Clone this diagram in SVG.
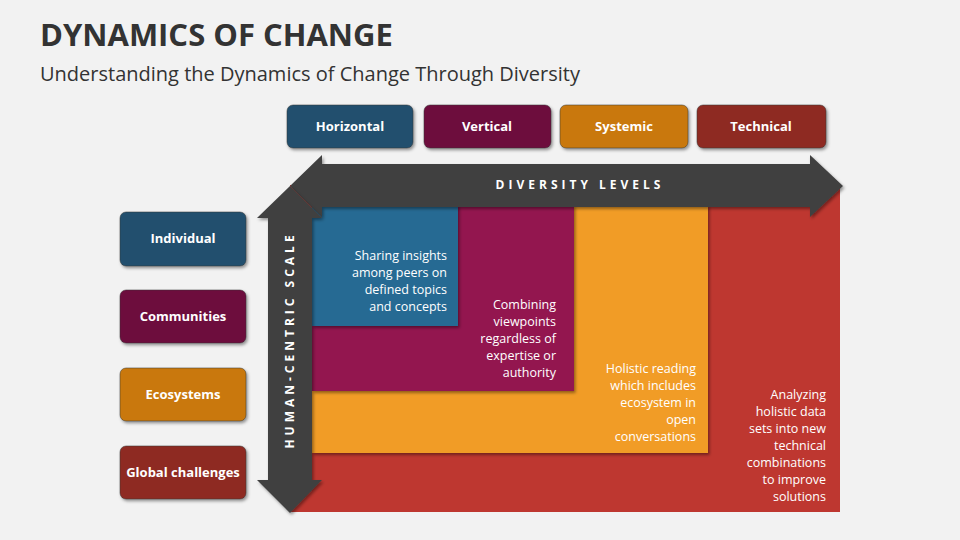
<svg xmlns="http://www.w3.org/2000/svg" width="960" height="540" viewBox="0 0 960 540">
<defs>
<style>
.t{font-family:"Open Sans","Liberation Sans",sans-serif;font-weight:bold;font-size:13px;fill:#fff;text-anchor:middle}
.b{font-family:"Open Sans","Liberation Sans",sans-serif;font-size:12.5px;fill:#fff;text-anchor:end}
.box{stroke:#333;stroke-opacity:.5;stroke-width:1}
</style>
<filter id="sh" x="-10%" y="-10%" width="120%" height="130%"><feDropShadow dx="1.5" dy="2" stdDeviation="1.5" flood-opacity="0.4"/></filter>
</defs>
<rect width="960" height="540" fill="#f2f2f2"/>
<text x="40" y="46" font-family="Open Sans,Liberation Sans,sans-serif" font-weight="bold" font-size="31" fill="#333">DYNAMICS OF CHANGE</text>
<text x="40" y="81" font-family="Open Sans,Liberation Sans,sans-serif" font-size="20" fill="#333">Understanding the Dynamics of Change Through Diversity</text>
<g id="quadrants">
<rect x="290" y="185" width="550" height="327" fill="#be3730"/>
<rect x="312" y="205" width="396" height="248" fill="#f19c27" filter="url(#sh)"/>
<rect x="312" y="205" width="262" height="186" fill="#93124f" filter="url(#sh)"/>
<rect x="312" y="205" width="146" height="121" fill="#276a93" filter="url(#sh)"/>
<text class="b" x="447" y="260">Sharing insights<tspan x="447" dy="17">among peers on</tspan><tspan x="447" dy="17">defined topics</tspan><tspan x="447" dy="17">and concepts</tspan></text>
<text class="b" x="556" y="309">Combining<tspan x="556" dy="17">viewpoints</tspan><tspan x="556" dy="17">regardless of</tspan><tspan x="556" dy="17">expertise or</tspan><tspan x="556" dy="17">authority</tspan></text>
<text class="b" x="696" y="373">Holistic reading<tspan x="696" dy="17">which includes</tspan><tspan x="696" dy="17">ecosystem in</tspan><tspan x="696" dy="17">open</tspan><tspan x="696" dy="17">conversations</tspan></text>
<text class="b" x="826" y="399">Analyzing<tspan x="826" dy="17">holistic data</tspan><tspan x="826" dy="17">sets into new</tspan><tspan x="826" dy="17">technical</tspan><tspan x="826" dy="17">combinations</tspan><tspan x="826" dy="17">to improve</tspan><tspan x="826" dy="17">solutions</tspan></text>
</g>
<g id="connectors">
<polygon points="290,186 322,155 322,164 810,164 810,155 843,186 810,217 810,207 322,207 322,217" fill="#404040" filter="url(#sh)"/>
<polygon points="290,186 322,218 312,218 312,480 322,480 290,513 257,480 268,480 268,218 257,218" fill="#404040" filter="url(#sh)"/>
<text x="580" y="189" font-family="Open Sans,Liberation Sans,sans-serif" font-weight="bold" font-size="12" letter-spacing="4" fill="#fff" text-anchor="middle">DIVERSITY LEVELS</text>
<text transform="translate(294,340) rotate(-90)" font-family="Open Sans,Liberation Sans,sans-serif" font-weight="bold" font-size="12" letter-spacing="4" fill="#fff" text-anchor="middle">HUMAN-CENTRIC SCALE</text>
</g>
<g id="top-horizontal"><rect class="box" x="287" y="105" width="126" height="43" rx="6" fill="#21506e" filter="url(#sh)"/><text class="t" x="350" y="131">Horizontal</text></g>
<g id="top-vertical"><rect class="box" x="424" y="105" width="127" height="43" rx="6" fill="#6d0e3e" filter="url(#sh)"/><text class="t" x="487" y="131">Vertical</text></g>
<g id="top-systemic"><rect class="box" x="560" y="105" width="128" height="43" rx="6" fill="#c97807" filter="url(#sh)"/><text class="t" x="624" y="131">Systemic</text></g>
<g id="top-technical"><rect class="box" x="697" y="105" width="129" height="43" rx="6" fill="#8e2b22" filter="url(#sh)"/><text class="t" x="761" y="131">Technical</text></g>
<g id="left-individual"><rect class="box" x="120" y="212" width="126" height="54" rx="6" fill="#21506e" filter="url(#sh)"/><text class="t" x="183" y="243">Individual</text></g>
<g id="left-communities"><rect class="box" x="120" y="290" width="126" height="53" rx="6" fill="#6d0e3e" filter="url(#sh)"/><text class="t" x="183" y="321">Communities</text></g>
<g id="left-ecosystems"><rect class="box" x="120" y="368" width="126" height="53" rx="6" fill="#c97807" filter="url(#sh)"/><text class="t" x="183" y="399">Ecosystems</text></g>
<g id="left-global"><rect class="box" x="120" y="446" width="126" height="53" rx="6" fill="#8e2b22" filter="url(#sh)"/><text class="t" x="183" y="477">Global challenges</text></g>
</svg>
